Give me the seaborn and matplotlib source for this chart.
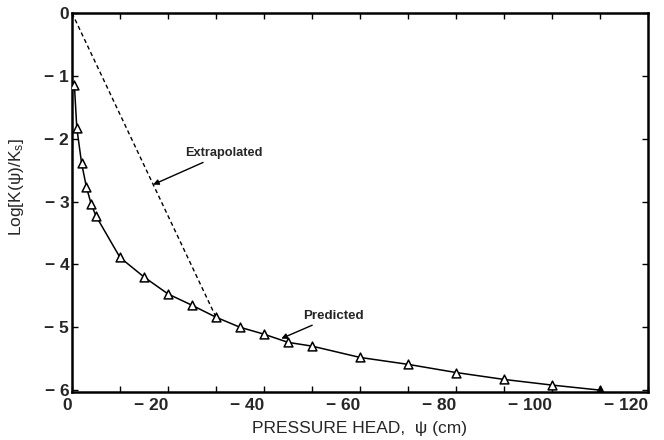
import matplotlib
matplotlib.use("Agg")
import matplotlib.pyplot as plt
import matplotlib.transforms as mtransforms
import seaborn as sns
import pandas as pd
from matplotlib.ticker import FixedLocator

# Data
psi = [-0.5, -1, -2, -3, -4, -5, -10, -15, -20, -25, -30, -35, -40, -45, -50,
       -60, -70, -80, -90, -100, -110]
logk = [-1.15, -1.83, -2.39, -2.77, -3.04, -3.23, -3.89, -4.20, -4.47, -4.65,
        -4.84, -5.00, -5.11, -5.24, -5.30, -5.48, -5.59, -5.72, -5.83, -5.92, -6.00]
extrap_psi = [0, -30]
extrap_logk = [0, -4.84]

xticks = [0, -20, -40, -60, -80, -100, -120]
xticklabels = ["0", "\u2212 20", "\u2212 40", "\u2212 60", "\u2212 80", "\u2212 100", "\u2212 120"]
yticks = [0, -1, -2, -3, -4, -5, -6]
yticklabels = ["0", "\u2212 1", "\u2212 2", "\u2212 3", "\u2212 4", "\u2212 5", "\u2212 6"]

sns.set_style("ticks")
plt.rcParams['font.family'] = ['Liberation Sans', 'DejaVu Sans']
plt.rcParams['mathtext.fontset'] = 'custom'
plt.rcParams['mathtext.rm'] = 'Liberation Sans'
plt.rcParams['mathtext.it'] = 'Liberation Sans'

df = pd.DataFrame({"psi": psi, "logk": logk})
df_open = df.iloc[:-1]
df_fill = df.iloc[-1:]
df_ex = pd.DataFrame({"psi": extrap_psi, "logk": extrap_logk})

fig = plt.figure(figsize=(6.64, 4.40), dpi=100)
ax = fig.add_axes([72/664, 1-392/440, (648-72)/664, (392-13)/440])

sns.lineplot(data=df, x="psi", y="logk", ax=ax, color="black", lw=1.1,
             sort=False, estimator=None)
sns.lineplot(data=df_ex, x="psi", y="logk", ax=ax, color="black", lw=1.0,
             sort=False, estimator=None, linestyle=(0, (3, 2.2)))
sns.scatterplot(data=df_open, x="psi", y="logk", ax=ax, marker="^", s=40,
                facecolor="white", edgecolor="black", linewidth=1.1, zorder=5)
sns.scatterplot(data=df_fill, x="psi", y="logk", ax=ax, marker="^", s=40,
                facecolor="black", edgecolor="black", linewidth=1.1, zorder=5)

ax.set_xlim(0, -120)
ax.set_ylim(-6.03, 0)
ax.xaxis.set_major_locator(FixedLocator(xticks))
ax.set_xticklabels(xticklabels)
ax.xaxis.set_minor_locator(FixedLocator([-10, -30, -50, -70, -90, -110]))
ax.yaxis.set_major_locator(FixedLocator(yticks))
ax.set_yticklabels(yticklabels)

shift = mtransforms.ScaledTranslation(5/100, 0, fig.dpi_scale_trans)
for lab in ax.get_xticklabels():
    lab.set_fontweight("bold")
    lab.set_fontsize(12.5)
    lab.set_horizontalalignment("right")
    lab.set_transform(lab.get_transform() + shift)
for lab in ax.get_yticklabels():
    lab.set_fontweight("bold")
    lab.set_fontsize(12.5)

ax.tick_params(which="both", direction="in", top=True, right=True,
               length=4, width=1.0, color="black")
ax.tick_params(axis="x", pad=4)
ax.tick_params(axis="y", pad=2)
for s in ax.spines.values():
    s.set_linewidth(1.8)
    s.set_color("black")

ax.set_xlabel("PRESSURE HEAD,  \u03c8 (cm)", fontsize=12.5, labelpad=6)
ax.set_ylabel("Log[K(\u03c8)/K$_{\\mathregular{s}}$]", fontsize=12.5)
ax.yaxis.set_label_coords(-0.080, 0.54)

ax.annotate("Extrapolated", xy=(-16.9, -2.73), xytext=(-23.6, -2.23),
            fontsize=9.2, fontweight="bold", va="center", ha="left",
            arrowprops=dict(arrowstyle="-|>", color="black", lw=1.0,
                            mutation_scale=8, shrinkA=0, shrinkB=0))
ax.annotate("Predicted", xy=(-43.6, -5.18), xytext=(-48.2, -4.82),
            fontsize=9.6, fontweight="bold", va="center", ha="left",
            arrowprops=dict(arrowstyle="-|>", color="black", lw=1.0,
                            mutation_scale=8, shrinkA=0, shrinkB=0))

if ax.get_legend():
    ax.get_legend().remove()

fig.savefig("out.png", dpi=100)
